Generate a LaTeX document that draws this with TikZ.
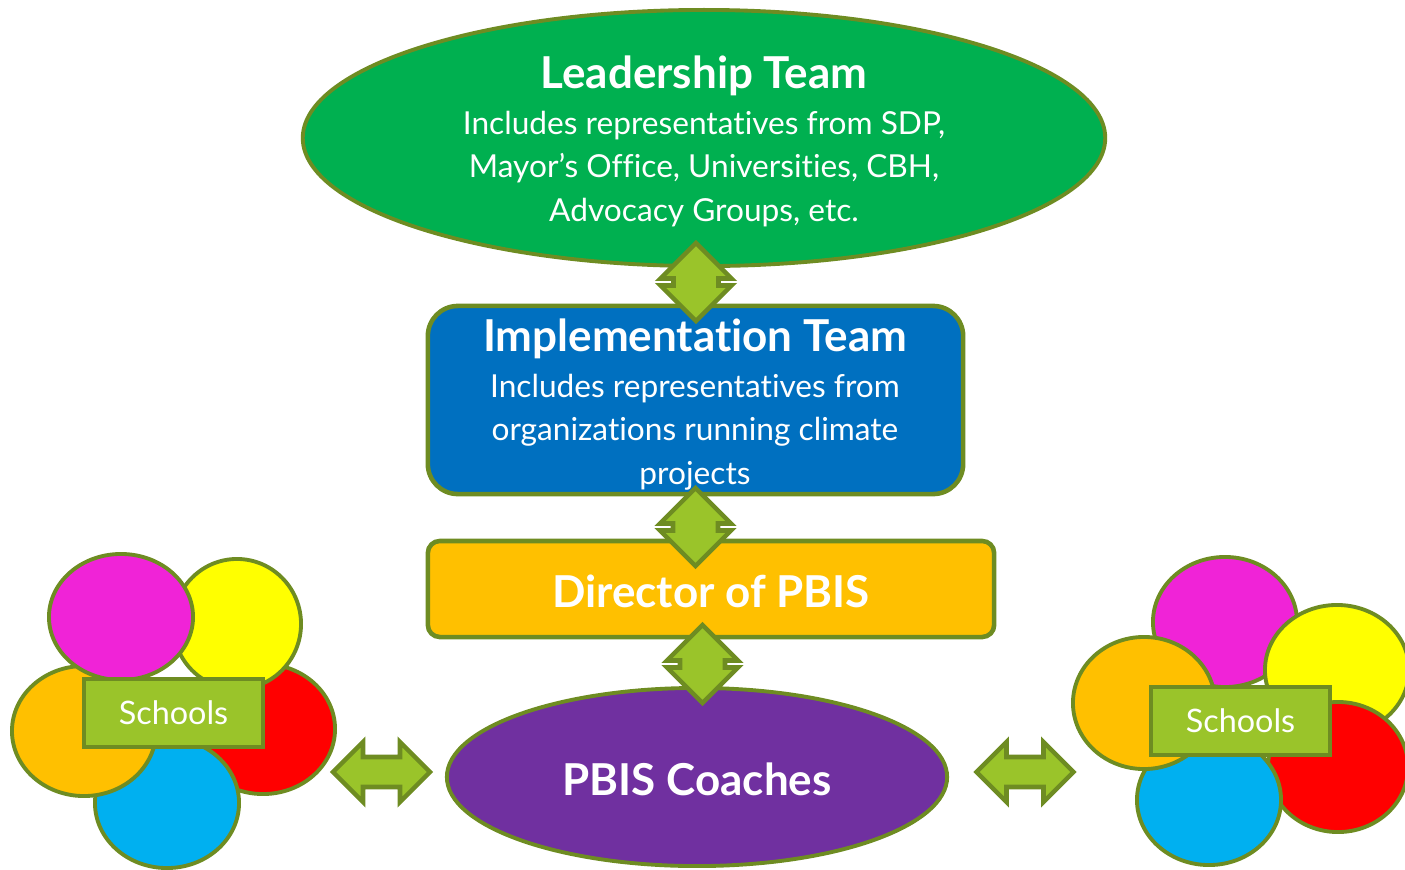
\documentclass[tikz,border=0pt]{standalone}
\usepackage{fontspec}
\setmainfont{Lato}[Ligatures=NoCommon]
\usetikzlibrary{shapes.geometric}

\definecolor{olive}{HTML}{6E8C22}
\definecolor{leafgreen}{HTML}{9AC42A}
\definecolor{leadgreen}{HTML}{00B050}
\definecolor{implblue}{HTML}{0070C0}
\definecolor{pbisgold}{HTML}{FFC000}
\definecolor{coachpurple}{HTML}{7030A0}
\definecolor{schoolmagenta}{HTML}{F023D7}
\definecolor{schoolyellow}{HTML}{FFFF00}
\definecolor{schoolred}{HTML}{FF0000}
\definecolor{schoolorange}{HTML}{FFC000}
\definecolor{schoolblue}{HTML}{00B0F0}

\begin{document}
\begin{tikzpicture}[x=0.01cm,y=-0.01cm,
    team ellipse/.style={ellipse,draw=olive,line width=1.1pt,inner sep=0pt},
    team box/.style={rectangle,draw=olive,line width=1.3pt,inner sep=0pt},
    head text/.style={text=white,font=\bfseries\fontsize{12.5}{14}\selectfont},
    body text/.style={text=white,align=center,font=\fontsize{9}{12.3}\selectfont},
    school/.style={ellipse,draw=olive,line width=1.1pt,inner sep=0pt,
        minimum width=1.44cm,minimum height=1.30cm},
    tag box/.style={rectangle,fill=leafgreen,draw=olive,line width=1.3pt,
        minimum width=1.79cm,minimum height=0.68cm,text=white,
        font=\fontsize{9.2}{11}\selectfont},
    block arrow/.style={fill=leafgreen,draw=olive,line width=1.3pt,line join=miter}]

  \useasboundingbox (0,0) rectangle (1405,869);
  \clip (0,0) rectangle (1405,869);

  % main chain
  \node[team ellipse,fill=leadgreen,minimum width=8.02cm,minimum height=2.56cm] (lead) at (704,138) {};
  \node[team box,fill=implblue,rounded corners=0.3cm,minimum width=5.35cm,minimum height=1.88cm] (impl) at (695.5,400) {};
  \node[team box,fill=pbisgold,rounded corners=0.12cm,minimum width=5.66cm,minimum height=0.96cm] (director) at (711,589) {};
  \node[team ellipse,fill=coachpurple,minimum width=5.0cm,minimum height=1.78cm] (coaches) at (697,777) {};

  \node[head text] (leadtitle) at (704,76) {Leadership Team};
  \node[body text] (leadbody) at (704,169) {Includes representatives from SDP,\\Mayor’s Office, Universities, CBH,\\Advocacy Groups, etc.};
  \node[head text] (impltitle) at (695,339) {Implementation Team};
  \node[body text] (implbody) at (695,432) {Includes representatives from\\organizations running climate\\projects};
  \node[head text] (directortitle) at (711,591) {Director of PBIS};
  \node[head text] (coachestitle) at (697,779) {PBIS Coaches};

  % left schools
  \node[school,fill=schoolred] (lred) at (263,729) {};
  \node[school,fill=schoolblue] (lblue) at (167,803) {};
  \node[school,fill=schoolorange] (lorange) at (84,731) {};
  \node[school,fill=schoolyellow,minimum width=1.28cm] (lyellow) at (237,624) {};
  \node[school,fill=schoolmagenta,minimum height=1.26cm] (lmagenta) at (121,617) {};
  \node[tag box] (ltag) at (173.5,713) {Schools};

  % right schools
  \node[school,fill=schoolmagenta] (rmagenta) at (1225,622) {};
  \node[school,fill=schoolyellow] (ryellow) at (1337,670) {};
  \node[school,fill=schoolred,minimum width=1.40cm] (rred) at (1338,767) {};
  \node[school,fill=schoolblue] (rblue) at (1209,800) {};
  \node[school,fill=schoolorange,minimum width=1.42cm,minimum height=1.32cm] (rorange) at (1144,703) {};
  \node[tag box] (rtag) at (1240.5,721) {Schools};

  % block arrows
  \coordinate (leadimpl) at (696,282);
  \coordinate (impldirector) at (695.5,527);
  \coordinate (directorcoaches) at (702.5,664);
  \coordinate (leftcoaches) at (381.5,772);
  \coordinate (rightcoaches) at (1025,772);

  \foreach \c in {leadimpl,impldirector,directorcoaches}
    \draw[block arrow] (\c) ++(0,-39) -- ++(35.5,35.5) -- ++(-13,0) -- ++(0,7) -- ++(13,0)
      -- ++(-35.5,35.5) -- ++(-35.5,-35.5) -- ++(13,0) -- ++(0,-7) -- ++(-13,0) -- cycle;
  \foreach \c in {leftcoaches,rightcoaches}
    \draw[block arrow] (\c) ++(-48.5,0) -- ++(30,-30) -- ++(0,15) -- ++(37,0) -- ++(0,-15)
      -- ++(30,30) -- ++(-30,30) -- ++(0,-15) -- ++(-37,0) -- ++(0,15) -- cycle;
\end{tikzpicture}
\end{document}
